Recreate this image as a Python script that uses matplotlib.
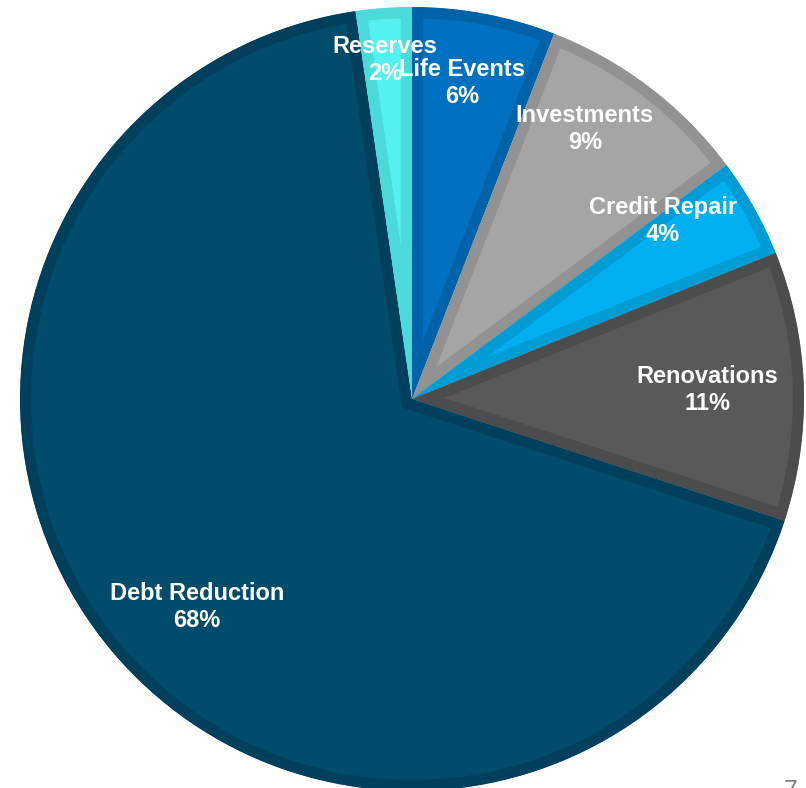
import matplotlib.pyplot as plt

# slices, clockwise from 12 o'clock (shares)
categorias = ['Life Events', 'Investments', 'Credit Repair', 'Renovations', 'Debt Reduction', 'Reserves']
valores = [5.9, 8.9, 4.1, 11.1, 67.6, 2.3]
rotulos = ['6%', '9%', '4%', '11%', '68%', '2%']

cores = ['#0070C0', '#A5A5A5', '#00B0F0', '#595959', '#014C6B', '#55F0F0']
cores_borda = ['#0062A8', '#929292', '#009CD6', '#4C4C4C', '#00405C', '#4ADADA']

# label centres (data coords, pie radius = 1)
pos_rotulos = [(0.128, 0.807), (0.441, 0.689), (0.640, 0.453),
               (0.753, 0.023), (-0.548, -0.531), (-0.069, 0.864)]

fig = plt.figure(figsize=(8.06, 7.88), dpi=100)
ax = fig.add_axes([20 / 806, -3 / 788, 784 / 806, 784 / 788])

wedges, _ = ax.pie(valores, colors=cores, startangle=90, counterclock=False,
                   radius=1.0, wedgeprops=dict(linewidth=0))

# darker band on the inside of each wedge edge (stroke clipped to the wedge)
for w, cb in zip(wedges, cores_borda):
    w.set_edgecolor(cb)
    w.set_linewidth(16)
    w.set_joinstyle('miter')
    w.set_clip_path(w)
    w.set_clip_on(True)

for (x, y), nome, pct in zip(pos_rotulos, categorias, rotulos):
    ax.text(x, y, f'{nome}\n{pct}', ha='center', va='center', color='white',
            fontsize=17, fontweight='bold', family=['Liberation Sans', 'DejaVu Sans'],
            linespacing=1.22)

ax.set_xlim(-1, 1)
ax.set_ylim(-1, 1)
ax.set_aspect('equal')
ax.axis('off')

# page number, cut by the bottom edge
fig.text(791 / 806, 9 / 788, '7', ha='center', va='top', color='#7F7F7F',
         fontsize=18, family=['Liberation Sans', 'DejaVu Sans'])

fig.savefig('out.png', dpi=100)
